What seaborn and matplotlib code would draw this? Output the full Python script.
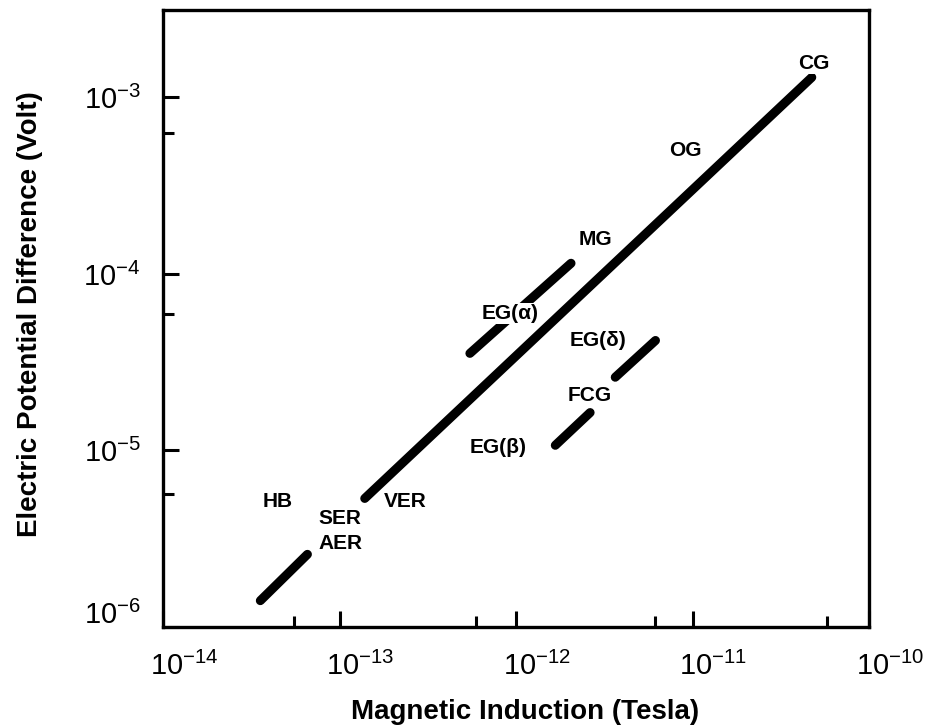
import numpy as np
import pandas as pd
import matplotlib
matplotlib.use("Agg")
import matplotlib.pyplot as plt
import matplotlib.transforms as mtransforms
import seaborn as sns

# ---------------- data ----------------
segment_names = ["HB-AER", "VER-CG", "EG(alpha)-MG", "EG(delta)", "EG(beta)-FCG"]
b_start = [3.56e-14, 1.39e-13, 5.48e-13, 3.65e-12, 1.67e-12]   # Tesla
b_end   = [6.58e-14, 4.74e-11, 2.05e-12, 6.17e-12, 2.63e-12]
v_start = [1.41e-6, 5.35e-6, 3.55e-5, 2.60e-5, 1.07e-5]        # Volt
v_end   = [2.58e-6, 1.30e-3, 1.15e-4, 4.20e-5, 1.64e-5]

label_texts = ["CG", "OG", "MG", "EG(α)", "EG(δ)", "FCG", "EG(β)", "HB", "VER", "SER", "AER"]
label_b = [4.87e-11, 9.1e-12, 2.81e-12, 9.25e-13, 2.92e-12, 2.63e-12, 7.9e-13, 4.45e-14, 2.37e-13, 1.01e-13, 1.01e-13]
label_v = [1.56e-3, 5.0e-4, 1.57e-4, 6.0e-5, 4.2e-5, 2.05e-5, 1.04e-5, 5.14e-6, 5.14e-6, 4.12e-6, 2.97e-6]

x_major = [1e-14, 1e-13, 1e-12, 1e-11, 1e-10]
x_major_labels = ["10$^{-14}$", "10$^{-13}$", "10$^{-12}$", "10$^{-11}$", "10$^{-10}$"]
x_minor = [5.5e-14, 5.9e-13, 6.1e-12, 5.8e-11]
y_major = [1e-6, 1e-5, 1e-4, 1e-3]
y_major_labels = ["10$^{-6}$", "10$^{-5}$", "10$^{-4}$", "10$^{-3}$"]
y_minor = [5.7e-6, 5.9e-5, 6.25e-4]

# ---------------- style ----------------
sns.set_style("ticks")
plt.rcParams["font.family"] = ["Liberation Sans", "DejaVu Sans"]
plt.rcParams["mathtext.fontset"] = "custom"
plt.rcParams["mathtext.rm"] = "Liberation Sans"
plt.rcParams["mathtext.it"] = "Liberation Sans:italic"
plt.rcParams["mathtext.bf"] = "Liberation Sans:bold"
plt.rcParams["text.color"] = "black"
plt.rcParams["axes.labelcolor"] = "black"

df = pd.DataFrame({
    "segment": np.repeat(segment_names, 2),
    "B": np.ravel(np.column_stack([b_start, b_end])),
    "V": np.ravel(np.column_stack([v_start, v_end])),
})

fig = plt.figure(figsize=(9.34, 7.27), dpi=100)
ax = fig.add_axes([163 / 934, 1 - 627 / 727, (869 - 163) / 934, (627 - 10) / 727])
ax.set_xscale("log")
ax.set_yscale("log")

sns.lineplot(data=df, x="B", y="V", units="segment", estimator=None,
             color="black", linewidth=6.5, solid_capstyle="round", ax=ax,
             legend=False)

ax.set_xlim(1e-14, 1e-10)
ax.set_ylim(1e-6, 3.13e-3)

for t, bx, vy in zip(label_texts, label_b, label_v):
    ax.text(bx, vy, t, ha="center", va="center", fontsize=15, fontweight="bold",
            color="black", zorder=5,
            bbox=dict(boxstyle="square,pad=0.05", facecolor="white", edgecolor="none"))

# ticks
ax.set_xticks(x_major)
ax.set_xticklabels(x_major_labels)
ax.set_xticks(x_minor, minor=True)
ax.set_xticklabels([], minor=True)
ax.set_yticks(y_major)
ax.set_yticklabels(y_major_labels)
ax.set_yticks(y_minor, minor=True)
ax.set_yticklabels([], minor=True)

ax.tick_params(which="major", direction="in", length=11.5, width=2.2,
               labelsize=21, color="black", labelcolor="black")
ax.tick_params(which="minor", direction="in", length=8, width=2.2, color="black")
ax.tick_params(axis="x", which="major", pad=18)
ax.tick_params(axis="y", which="major", pad=16)
ax.tick_params(top=False, right=False, which="both")

for s in ax.spines.values():
    s.set_visible(True)
    s.set_linewidth(2.4)
    s.set_color("black")

# shift x tick labels so the base "10" sits under the tick
for lab in ax.get_xticklabels():
    lab.set_transform(lab.get_transform() +
                      mtransforms.ScaledTranslation(21 / 100, 0, fig.dpi_scale_trans))
# lift the lowest y tick label above the corner
ylabs = ax.get_yticklabels()
ylabs[0].set_transform(ylabs[0].get_transform() +
                       mtransforms.ScaledTranslation(0, 15 / 100, fig.dpi_scale_trans))

ax.set_xlabel("Magnetic Induction (Tesla)", fontsize=20, fontweight="bold", color="black")
ax.set_ylabel("Electric Potential Difference (Volt)", fontsize=20, fontweight="bold",
              color="black")
ax.xaxis.set_label_coords(0.513, -0.117)
ax.yaxis.set_label_coords(-0.17, 0.507)

fig.savefig("out.png", dpi=100, facecolor="white")
